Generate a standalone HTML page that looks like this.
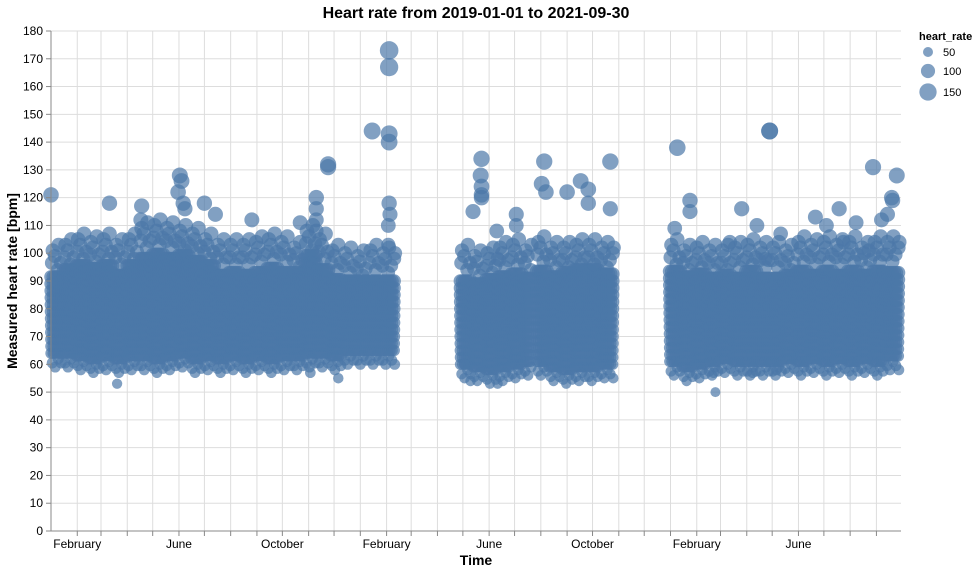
<!DOCTYPE html>
<html><head><meta charset="utf-8"><style>
body{margin:0;background:#fff;font-family:"Liberation Sans",sans-serif}
svg text{font-family:"Liberation Sans",sans-serif}
</style></head><body>
<svg id="chart" width="977" height="572" xmlns="http://www.w3.org/2000/svg">
<g id="grid"></g>
<g id="marks"></g>
<g id="axes"></g>
<text x="476" y="18" text-anchor="middle" font-size="16" font-weight="bold">Heart rate from 2019-01-01 to 2021-09-30</text>
<text x="476" y="565" text-anchor="middle" font-size="14" font-weight="bold">Time</text>
<text transform="translate(17,281) rotate(-90)" text-anchor="middle" font-size="14" font-weight="bold">Measured heart rate [bpm]</text>
<g id="legend"></g>
</svg>
<script>
// days since 2019-01-01 for bin starts; per-bin low/high of dense readings
const binStart=[0,15,30,45,60,75,90,105,120,135,150,165,180,195,210,225,240,255,270,285,300,315,330,345,360,375,390,
 483,498,513,528,543,558,573,588,603,618,633,648,
 730,745,760,775,790,805,820,835,850,865,880,895,910,925,940,955,970,985];
const binEnd=[15,30,45,60,75,90,105,120,135,150,165,180,195,210,225,240,255,270,285,300,315,330,345,360,375,390,406,
 498,513,528,543,558,568,588,603,618,633,648,664,
 745,760,775,790,805,820,835,850,865,880,895,910,925,940,955,970,985,1002];
const binLow=[64,64,63,62,63,62,63,63,62,63,64,62,63,62,63,62,63,62,63,63,64,64,63,65,65,65,65,
 60,59,58,59,60,61,61,59,58,59,59,60,
 61,59,60,61,62,61,61,61,61,62,61,62,61,62,61,62,61,63];
const binHigh=[92,94,96,95,96,94,96,100,101,100,99,98,96,94,94,94,95,96,95,93,99,96,92,91,90,92,91,
 92,90,91,93,94,92,95,93,93,94,94,93,
 94,92,93,92,92,93,94,93,93,92,95,94,95,94,95,93,95,95];
const outDay=[0,78,69,107,106,152,154,150,156,158,181,194,237,294,313,313,313,313,327,327,306,339,379,399,399,399,399,399,400,398,398,
 508,507,508,508,508,498,549,549,526,582,584,579,625,609,634,634,660,660,527,488,495,527,
 739,754,754,736,801,815,833,848,848,861,843,784,782,902,915,930,935,970,998,992,993,987,980,965,950,856,828];
const outVal=[121,53,118,117,112,128,126,122,118,116,118,114,112,111,120,116,112,108,132,131,57,55,144,173,167,143,140,118,114,110,103,
 134,128,124,121,120,115,114,110,108,133,122,125,126,122,123,118,133,116,98,60,54,53,
 138,119,115,109,104,116,110,144,144,107,98,50,57,113,110,116,104,131,128,120,119,114,112,101,111,58,57];
const yTicks=[0,10,20,30,40,50,60,70,80,90,100,110,120,130,140,150,160,170,180];
const monthLabels=["January","February","March","April","May","June","July","August","September","October","November","December"];
const legendVals=[50,100,150];

const X0=51,X1=901,Y0=531,Y1=31,DMAX=1003;
const xS=d=>X0+d*(X1-X0)/DMAX;
const yS=v=>Y0-v*(Y0-Y1)/180;
const rS=v=>0.707*Math.sqrt(v);
const NS="http://www.w3.org/2000/svg";
function mk(t,a,p){const e=document.createElementNS(NS,t);for(const k in a)e.setAttribute(k,a[k]);p.appendChild(e);return e;}
const grid=document.getElementById('grid'),axes=document.getElementById('axes'),marks=document.getElementById('marks'),leg=document.getElementById('legend');
yTicks.forEach(v=>{
 const g=mk('line',{x1:X0,x2:X1,y1:yS(v),y2:yS(v),stroke:'#ddd'},grid);
 
 mk('line',{x1:X0-5,x2:X0,y1:yS(v),y2:yS(v),stroke:'#888'},axes);
 const t=mk('text',{x:X0-8,y:yS(v)+4,'text-anchor':'end','font-size':12,fill:'#000'},axes);
 t.textContent=v;
 
});
const base=Date.UTC(2019,0,1);
for(let m=1;m<34;m++){
 const d=(Date.UTC(2019,m,1)-base)/864e5;if(d>DMAX)break;
 const x=xS(d);
 const g=mk('line',{x1:x,x2:x,y1:Y1,y2:Y0,stroke:'#ddd'},grid);
 
 mk('line',{x1:x,x2:x,y1:Y0,y2:Y0+5,stroke:'#888'},axes);
 const mi=m%12;
 if(mi%4===1){
  const t=mk('text',{x:x,y:Y0+17,'text-anchor':'middle','font-size':12},axes);
  t.textContent=monthLabels[mi];
  
 }
}
mk('line',{x1:X0,x2:X0,y1:Y1,y2:Y0,stroke:'#888'},axes);
mk('line',{x1:X0,x2:X1,y1:Y0,y2:Y0,stroke:'#888'},axes);
function dot(d,v){
 const c=mk('circle',{cx:xS(d),cy:yS(v),r:rS(v),fill:'#4c78a8','fill-opacity':0.7},marks);
 
}
binStart.forEach((s,i)=>{
 for(let d=s;d<binEnd[i];d+=2.5){
  for(let v=binLow[i];v<=binHigh[i];v+=2.5)dot(d,v);
 }
 // sparser fringe around the dense core
 let k=0;
 for(let d=s+1;d<binEnd[i];d+=3.5){
  k++;
  dot(d,binHigh[i]+2+(k%3)*2.5);
  if(k%2)dot(d+1,binHigh[i]+8+(k%4));
  dot(d+0.5,binLow[i]-2-(k%3)*1.5);
 }
});
outDay.forEach((d,i)=>dot(d,outVal[i]));
const lt=mk('text',{x:919,y:40,'font-size':11,'font-weight':'bold'},leg);lt.textContent='heart_rate';

const ly=[52,71,92];
legendVals.forEach((v,i)=>{
 const c=mk('circle',{cx:928,cy:ly[i],r:rS(v),fill:'#4c78a8','fill-opacity':0.7},leg);
 
 const t=mk('text',{x:943,y:ly[i]+4,'font-size':11},leg);t.textContent=v;
 
});
</script>
</body></html>
